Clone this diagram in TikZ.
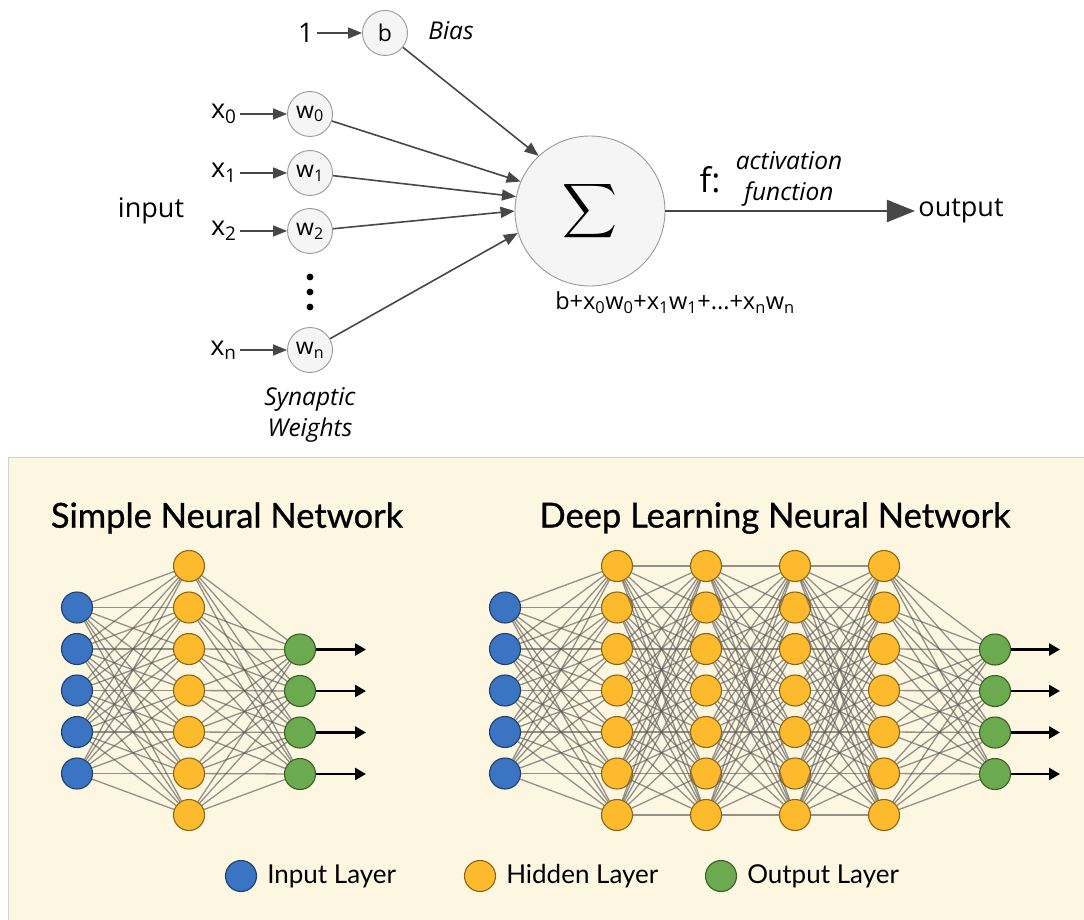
\documentclass[tikz,border=0pt]{standalone}
\usepackage{fontspec}
\setmainfont{Open Sans}
\newfontfamily\latofont{Lato}
\newfontfamily\titlefont{Lato}[FakeBold=0.8]
\usetikzlibrary{arrows.meta, positioning}

\definecolor{inblue}{HTML}{3B74C2}
\definecolor{hidorange}{HTML}{FDBA2C}
\definecolor{outgreen}{HTML}{6BAA4F}
\definecolor{panelbg}{HTML}{FDF7E1}
\newcommand{\sbs}[1]{\textsubscript{#1}}

\tikzset{
  neuron/.style={circle, draw=black!40, fill=black!4, line width=0.9pt,
    minimum size=45pt, inner sep=0pt, font=\fontsize{23}{23}\selectfont},
  sumnode/.style={circle, draw=black!40, fill=black!4, line width=0.9pt,
    minimum size=150pt, inner sep=0pt},
  lbl/.style={font=\fontsize{27}{27}\selectfont},
  small/.style={font=\fontsize{23.5}{23.5}\selectfont},
  ital/.style={font=\fontsize{24.5}{31}\selectfont\itshape, align=center},
  feed/.style={draw=black!72, line width=1.6pt, -{Triangle[length=14pt, width=11pt]}},
  bigfeed/.style={draw=black!72, line width=2.2pt, -{Triangle[length=28pt, width=22pt]}},
  nnode/.style={circle, draw=#1!55!black, fill=#1, line width=1.1pt,
    minimum size=31pt, inner sep=0pt},
  syn/.style={draw=black!65, line width=1.3pt, opacity=0.65},
  outarrow/.style={draw=black, line width=2.6pt, -{Triangle[length=11pt, width=12pt]}},
  title/.style={font=\titlefont\fontsize{34.5}{34.5}\selectfont},
  keytext/.style={font=\latofont\fontsize{26}{26}\selectfont, inner sep=2pt}
}

\begin{document}
\begin{tikzpicture}[x=1pt, y=-1pt]
    \useasboundingbox (0,0) rectangle (1084,920);

    % Neuron: weights and bias
    \node[neuron] (b) at (385,33) {b};
    \node[neuron] (w0) at (310,114) {w\sbs{0}};
    \node[neuron] (w1) at (310,173) {w\sbs{1}};
    \node[neuron] (w2) at (310,231) {w\sbs{2}};
    \node[neuron] (wn) at (310,350) {w\sbs{n}};
    \node[circle, fill=black, inner sep=2.4pt] (d1) at (310,277) {};
    \node[circle, fill=black, inner sep=2.4pt] (d2) at (310,292) {};
    \node[circle, fill=black, inner sep=2.4pt] (d3) at (310,307) {};

    \node[lbl, left=45pt of b] (one) {1};
    \node[lbl, left=47pt of w0] (x0) {x\sbs{0}};
    \node[lbl, left=47pt of w1] (x1) {x\sbs{1}};
    \node[lbl, left=47pt of w2] (x2) {x\sbs{2}};
    \node[lbl, left=47pt of wn] (xn) {x\sbs{n}};

    \node[ital] (bias) at (451,31) {Bias};
    \node[ital] (synw) at (310,415) {Synaptic\\Weights};
    \node[lbl] (input) at (151,211) {input};

    % Sum and output
    \node[sumnode] (sig) at (590,211) {\scalebox{3.8}{$\displaystyle\sum$}};
    \node[lbl] (output) at (961,211) {output};
    \node[font=\fontsize{34}{34}\selectfont] (f) at (710,180) {f:};
    \node[ital] (act) at (789,179) {activation\\function};
    \node[small] (sumtext) at (675,303) {b+x\sbs{0}w\sbs{0}+x\sbs{1}w\sbs{1}+...+x\sbs{n}w\sbs{n}};

    % Inputs into the weights
    \draw[feed] (one) -- (b);
    \draw[feed] (x0) -- (w0);
    \draw[feed] (x1) -- (w1);
    \draw[feed] (x2) -- (w2);
    \draw[feed] (xn) -- (wn);

    % Weights into the sum
    \draw[feed] (b) -- (sig.133);
    \draw[feed] (w0) -- (sig.157);
    \draw[feed] (w1) -- (sig.169);
    \draw[feed] (w2) -- (sig.180);
    \draw[feed] (wn) -- (sig.197);
    \draw[bigfeed] (sig) -- (output);

    % Panel
    \draw[draw=black!18, fill=panelbg] (8,457) rectangle (1092,930);
    \node[title] (stitle) at (227,518) {Simple Neural Network};
    \node[title] (dtitle) at (775,518) {Deep Learning Neural Network};

    % Simple network
    \foreach \i in {1,...,5}
      \node[nnode=inblue] (si\i) at (77,566+41.5*\i) {};
    \foreach \j in {1,...,7}
      \node[nnode=hidorange] (sh\j) at (189,524.5+41.5*\j) {};
    \foreach \k in {1,...,4} {
      \node[nnode=outgreen] (so\k) at (300,608+41.5*\k) {};
      \coordinate (se\k) at (366,608+41.5*\k);
    }
    \foreach \i in {1,...,5}
      \foreach \j in {1,...,7}
        \draw[syn] (si\i) -- (sh\j);
    \foreach \j in {1,...,7}
      \foreach \k in {1,...,4}
        \draw[syn] (sh\j) -- (so\k);
    \foreach \k in {1,...,4}
      \draw[outarrow] (so\k) -- (se\k);

    % Deep network
    \foreach \i in {1,...,5}
      \node[nnode=inblue] (di\i) at (505,566+41.5*\i) {};
    \foreach \x [count=\l] in {617,706,795,884}
      \foreach \j in {1,...,7}
        \node[nnode=hidorange] (dh\l-\j) at (\x,524.5+41.5*\j) {};
    \foreach \k in {1,...,4} {
      \node[nnode=outgreen] (do\k) at (995,608+41.5*\k) {};
      \coordinate (de\k) at (1060,608+41.5*\k);
    }
    \foreach \i in {1,...,5}
      \foreach \j in {1,...,7}
        \draw[syn] (di\i) -- (dh1-\j);
    \foreach \l/\m in {1/2,2/3,3/4}
      \foreach \i in {1,...,7}
        \foreach \j in {1,...,7}
          \draw[syn] (dh\l-\i) -- (dh\m-\j);
    \foreach \j in {1,...,7}
      \foreach \k in {1,...,4}
        \draw[syn] (dh4-\j) -- (do\k);
    \foreach \k in {1,...,4}
      \draw[outarrow] (do\k) -- (de\k);

    % Legend
    \node[nnode=inblue] (kin) at (241,876) {};
    \node[keytext, right=8pt of kin] (kintext) {Input Layer};
    \node[nnode=hidorange] (khid) at (480,876) {};
    \node[keytext, right=8pt of khid] (khidtext) {Hidden Layer};
    \node[nnode=outgreen] (kout) at (721,876) {};
    \node[keytext, right=8pt of kout] (kouttext) {Output Layer};
\end{tikzpicture}
\end{document}
